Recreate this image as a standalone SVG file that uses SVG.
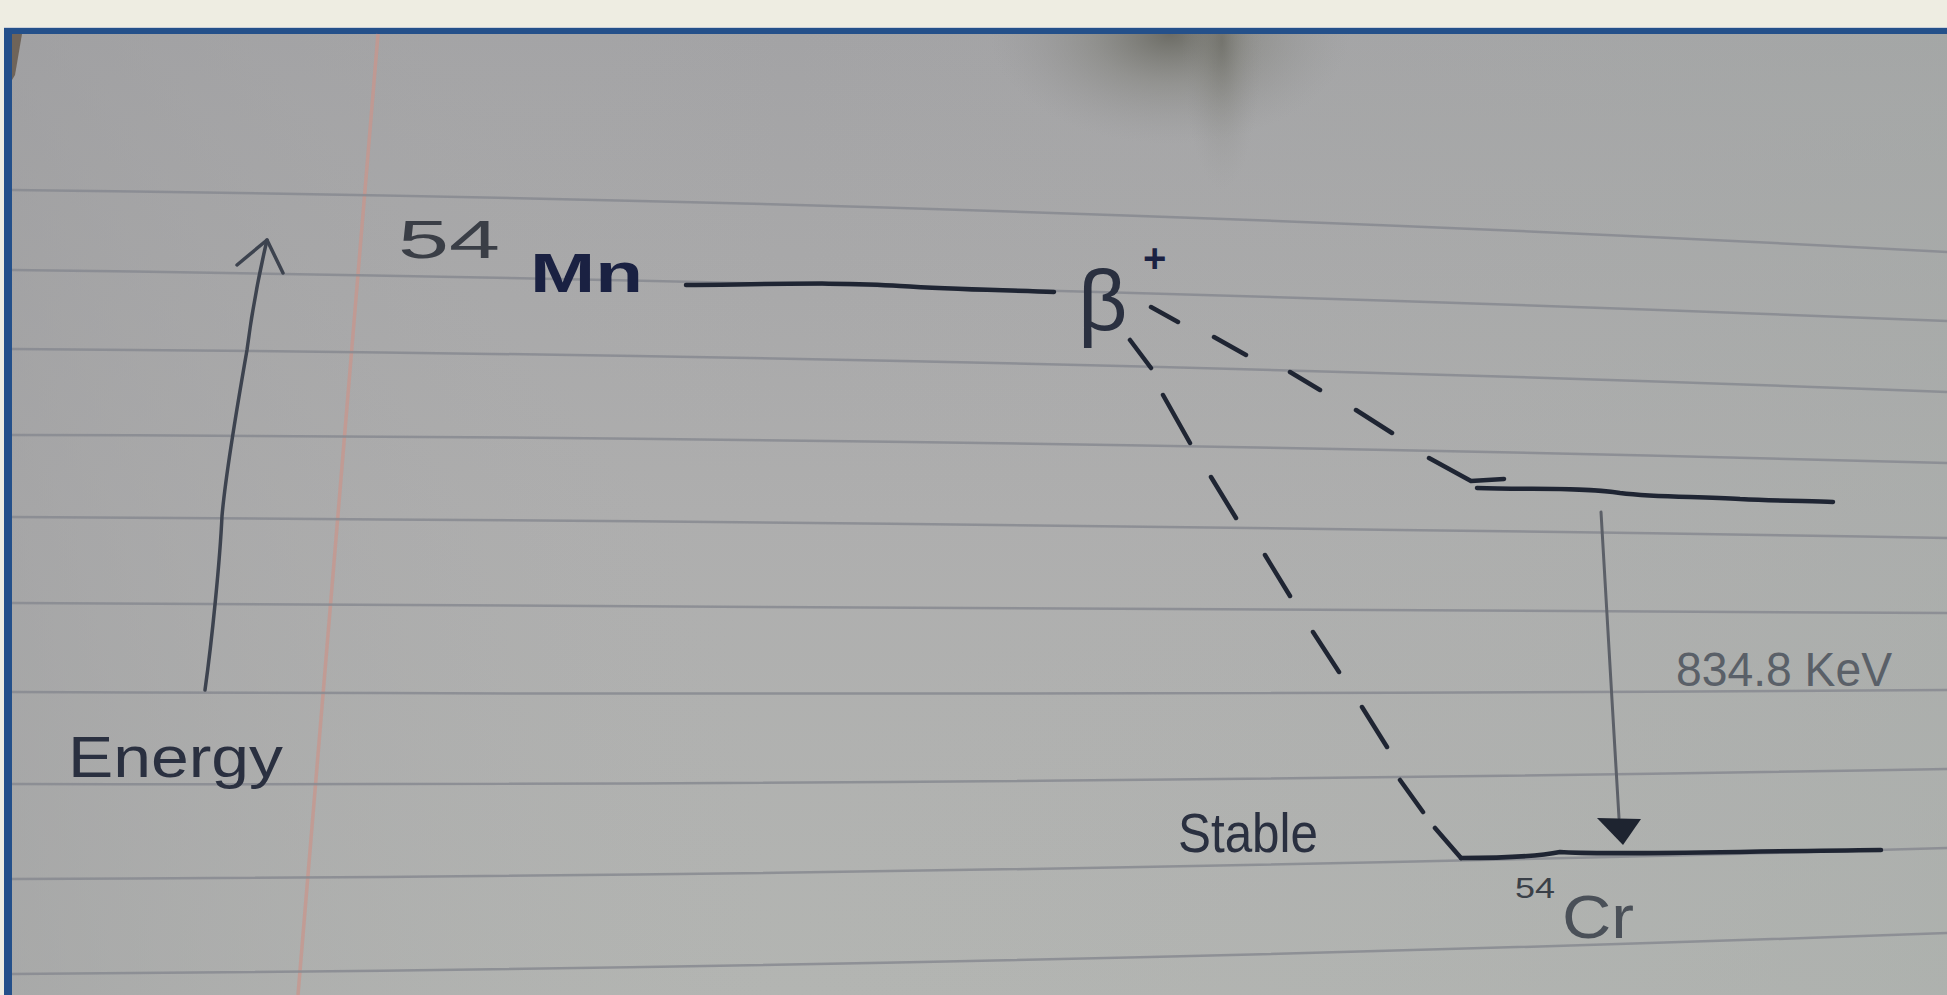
<svg xmlns="http://www.w3.org/2000/svg" width="1947" height="995" viewBox="0 0 1947 995">
  <defs>
    <linearGradient id="paper" x1="0" y1="0" x2="0" y2="1">
      <stop offset="0" stop-color="#a3a3a5"/>
      <stop offset="0.5" stop-color="#aeaeae"/>
      <stop offset="1" stop-color="#b3b5b2"/>
    </linearGradient>
    <linearGradient id="side" x1="0" y1="0" x2="1" y2="0">
      <stop offset="0" stop-color="#9d9d9f" stop-opacity="0.5"/>
      <stop offset="0.4" stop-color="#b0b0b0" stop-opacity="0"/>
      <stop offset="1" stop-color="#a6aca8" stop-opacity="0.4"/>
    </linearGradient>
    <radialGradient id="shadow" cx="0.5" cy="0.5" r="0.5">
      <stop offset="0" stop-color="#5e5e55" stop-opacity="0.8"/>
      <stop offset="0.45" stop-color="#77776f" stop-opacity="0.4"/>
      <stop offset="1" stop-color="#909090" stop-opacity="0"/>
    </radialGradient>
    <clipPath id="paperclip">
      <rect x="12" y="34" width="1935" height="961"/>
    </clipPath>
    <style>
      .rule { fill: none; stroke: #878a90; stroke-width: 2.5; stroke-opacity: 0.85; }
      .ink { fill: none; stroke: #1f2533; stroke-width: 4.5; stroke-linecap: round; stroke-linejoin: round; }
      .pencil { fill: none; stroke: #3d434f; stroke-width: 3.5; stroke-linecap: round; stroke-linejoin: round; }
      .hand { font-family: "Liberation Sans", "Noto Sans", sans-serif; }
    </style>
  </defs>

  <!-- frame / background -->
  <g id="background">
    <rect x="0" y="0" width="1947" height="995" fill="#eeede2"/>
    <rect x="4" y="27" width="1943" height="968" fill="#c9cfd8"/>
    <rect x="4" y="28" width="1943" height="967" fill="#24508a"/>
    <rect x="12" y="34" width="1935" height="961" fill="url(#paper)"/>
    <rect x="12" y="34" width="1935" height="961" fill="url(#side)"/>
    <g clip-path="url(#paperclip)">
      <ellipse cx="1170" cy="34" rx="180" ry="110" fill="url(#shadow)"/>
      <ellipse cx="1222" cy="40" rx="40" ry="150" fill="url(#shadow)" opacity="0.6"/>
    </g>
    <path d="M12,34 L22,34 L15,75 L12,80 Z" fill="#5a4a3a" fill-opacity="0.7"/>
    <!-- margin line -->
    <path d="M378,34 L298,995" stroke="#c8958c" stroke-width="3.5" stroke-opacity="0.75" fill="none"/>
  </g>

  <!-- ruled lines -->
  <g id="ruled-lines">
    <path class="rule" d="M12,190 Q979,200 1947,252"/>
    <path class="rule" d="M12,270 Q979,282 1947,321"/>
    <path class="rule" d="M12,349 Q979,355 1947,392"/>
    <path class="rule" d="M12,435 Q979,437 1947,463"/>
    <path class="rule" d="M12,517 Q979,522 1947,538"/>
    <path class="rule" d="M12,603 Q979,609 1947,613"/>
    <path class="rule" d="M12,692 Q979,696 1947,690"/>
    <path class="rule" d="M12,784 Q979,786 1947,769"/>
    <path class="rule" d="M12,879 Q979,876 1947,848"/>
    <path class="rule" d="M12,974 Q979,968 1947,933"/>
  </g>

  <!-- energy axis -->
  <g id="energy-axis">
    <path class="pencil" d="M205,690 C212,640 220,560 222,516 C226,470 240,390 247,350 C252,310 260,270 267,240"/>
    <path class="pencil" d="M237,265 L267,240 L283,273"/>
    <text class="hand" x="68" y="777" font-size="57" fill="#2a3040" textLength="215" lengthAdjust="spacingAndGlyphs">Energy</text>
  </g>

  <!-- parent level: 54Mn -->
  <g id="node-mn54">
    <text class="hand" x="398" y="258" font-size="54" fill="#3a3e46" textLength="102" lengthAdjust="spacingAndGlyphs">54</text>
    <text class="hand" x="530" y="292" font-size="56" font-weight="bold" fill="#1a2142" textLength="113" lengthAdjust="spacingAndGlyphs">Mn</text>
    <path class="ink" d="M686,285 C780,284 850,282 900,286 C960,290 1010,290 1054,292"/>
  </g>

  <!-- beta+ label -->
  <g id="label-beta">
    <text class="hand" x="1078" y="330" font-size="86" fill="#2a3040">β</text>
    <text class="hand" x="1143" y="272" font-size="40" font-weight="bold" fill="#1a2142">+</text>
  </g>

  <!-- excited level of 54Cr -->
  <g id="node-cr54-excited">
    <path class="ink" d="M1477,488 C1530,490 1580,487 1620,493 C1660,498 1700,496 1740,499 C1780,501 1810,501 1833,502"/>
  </g>

  <!-- ground level of 54Cr -->
  <g id="node-cr54-ground">
    <path class="ink" d="M1461,858 C1500,858 1540,856 1560,852 C1600,855 1700,852 1881,850"/>
    <text class="hand" x="1178" y="852" font-size="56" fill="#2a3040" textLength="140" lengthAdjust="spacingAndGlyphs">Stable</text>
    <text class="hand" x="1515" y="898" font-size="29" fill="#3a4048" textLength="40" lengthAdjust="spacingAndGlyphs">54</text>
    <text class="hand" x="1562" y="938" font-size="62" fill="#4a5058" textLength="72" lengthAdjust="spacingAndGlyphs">Cr</text>
  </g>

  <!-- connectors -->
  <g id="connectors">
    <!-- beta+ branch to excited level -->
    <path class="ink" d="M1151,307 L1178,322 M1214,337 L1246,355 M1290,372 L1320,390 M1356,410 L1392,433 M1429,458 L1471,481 L1504,479"/>
    <!-- beta+ branch to ground level -->
    <path class="ink" d="M1130,340 L1151,368 M1163,395 L1190,443 M1211,477 L1236,518 M1265,555 L1290,596 M1313,632 L1339,672 M1362,707 L1387,747 M1400,780 L1423,812 M1435,828 L1461,858"/>
    <!-- gamma transition -->
    <path d="M1601,512 L1612,700 L1619,818" fill="none" stroke="#5c6068" stroke-width="3" stroke-linecap="round"/>
    <path d="M1597,818 L1641,819 L1623,845 Z" fill="#1e2430"/>
    <text class="hand" x="1676" y="686" font-size="48" fill="#5a6068" textLength="216" lengthAdjust="spacingAndGlyphs">834.8  KeV</text>
  </g>
</svg>
